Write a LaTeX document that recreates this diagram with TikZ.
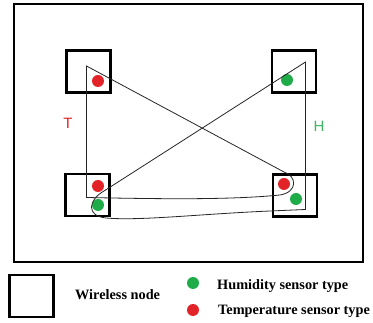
\documentclass[tikz,border=0pt]{standalone}
\usepackage{fontspec}
\setmainfont{Liberation Serif}
\newfontfamily\labfont{Liberation Sans}
\definecolor{pred}{RGB}{226,36,40}
\definecolor{pgreen}{RGB}{30,172,72}
\begin{document}
\begin{tikzpicture}[x=1pt,y=-1pt,
  wnode/.style={draw=black,line width=2.6pt,minimum width=44pt,minimum height=42pt,inner sep=0pt},
  tdot/.style={circle,fill=pred,minimum size=12pt,inner sep=0pt},
  hdot/.style={circle,fill=pgreen,minimum size=12pt,inner sep=0pt},
  wire/.style={draw=black!85,line width=0.8pt},
  lgtext/.style={font=\bfseries\fontsize{14.3}{16}\selectfont,anchor=west,inner sep=0pt}]
\useasboundingbox (0,0) rectangle (373,323);
\fill[white] (0,0) rectangle (373,323);
\draw[line width=2.6pt] (14,4) rectangle (363,262);
% wireless nodes
\node[wnode] (tl) at (88.5,71.5) {};
\node[wnode] (tr) at (294,71.5) {};
\node[wnode] (bl) at (87.5,195) {};
\node[wnode] (br) at (295,195.5) {};
% sensors
\node[tdot] (tlr) at (98,81) {};
\node[hdot] (trg) at (287,80) {};
\node[tdot] (blr) at (98,186) {};
\node[hdot] (blg) at (98,205) {};
\node[tdot] (brr) at (284,184) {};
\node[hdot] (brg) at (296,199) {};
% labels
\node[text=pred,font=\labfont\fontsize{15}{17}\selectfont] (T) at (68,123) {T};
\node[text=pgreen!85,font=\labfont\fontsize{15}{17}\selectfont] (H) at (319,126) {H};
% wires
\coordinate (a1) at (86.5,66);
\coordinate (a2) at (86.5,197.5);
\coordinate (a3) at (280,195);
\coordinate (a4) at (284,172);
\draw[wire] (a1) -- (a2) .. controls (160,199) and (230,200) .. (a3)
  .. controls (298,192) and (297,176) .. (a4) -- cycle;
\coordinate (b1) at (305.5,62);
\coordinate (b2) at (305.5,209.5);
\coordinate (b3) at (270,211);
\coordinate (b4) at (106,218);
\coordinate (b5) at (104,191);
\draw[wire] (b1) -- (b2) -- (b3) .. controls (200,214) and (140,221) .. (b4)
  .. controls (86,216) and (88,200) .. (b5) -- cycle;
% legend
\node[wnode] (lg) at (31.5,296) {};
\node[lgtext] (lgw) at (75,295) {Wireless node};
\node[hdot] (lgh) at (193,283) {};
\node[tdot] (lgt) at (193,310) {};
\node[lgtext] (lhh) at (217,286) {Humidity sensor type};
\node[lgtext] (ltt) at (218,311) {Temperature sensor type};
\end{tikzpicture}
\end{document}
